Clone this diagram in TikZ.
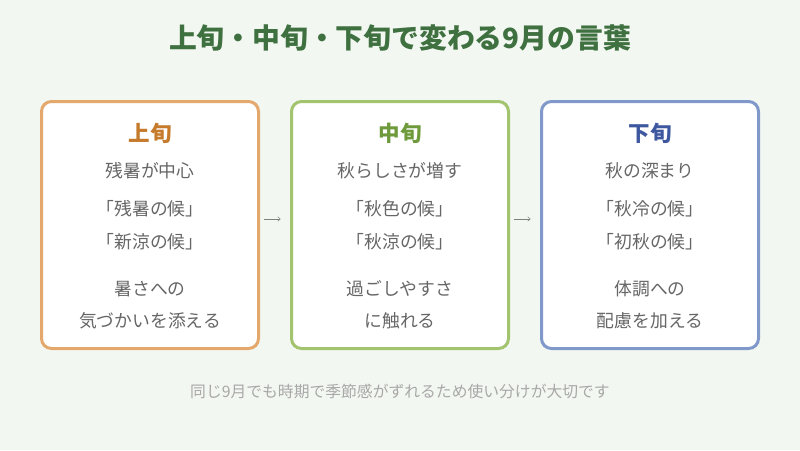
\documentclass[tikz,border=0pt]{standalone}
\usepackage{fontspec}
\usetikzlibrary{arrows.meta,positioning}
\setmainfont{Noto Sans CJK JP}
\definecolor{fondo}{HTML}{F3F7F1}
\definecolor{verdetit}{HTML}{3E7040}
\definecolor{naranja}{HTML}{E4A86C}
\definecolor{naranjaT}{HTML}{C67A2C}
\definecolor{verde}{HTML}{A2C46E}
\definecolor{verdeT}{HTML}{6E9A3C}
\definecolor{azul}{HTML}{8198CB}
\definecolor{azulT}{HTML}{3E58A0}
\definecolor{texto}{HTML}{666666}
\definecolor{nota}{HTML}{A8A8A8}
\tikzset{
  caja/.style={draw=#1,line width=3pt,fill=white,rounded corners=10pt,
    minimum width=217pt,minimum height=247pt,inner sep=0pt},
  cabeza/.style={text=#1,font=\fontsize{21.5}{21.5}\selectfont\bfseries},
  linea/.style={text=texto,font=\fontsize{17.8}{17.8}\selectfont},
  flecha/.style={->,gray,line width=.5pt,shorten <=3.5pt,shorten >=9.5pt}
}
\begin{document}
\begin{tikzpicture}[x=1pt,y=-1pt,>={To[length=3pt,width=5pt]}]
\fill[fondo] (0,0) rectangle (800,450);
\useasboundingbox (0,0) rectangle (800,450);
\node[text=verdetit,font=\fontsize{27.8}{27.8}\selectfont\bfseries] (titulo) at (400,38) {上旬・中旬・下旬で変わる9月の言葉};
\foreach \i/\c/\col/\cab/\a/\b/\d/\e/\f in {
  1/0/naranja/上旬/残暑が中心/「残暑の候」/「新涼の候」/暑さへの/気づかいを添える,
  2/250/verde/中旬/秋らしさが増す/「秋色の候」/「秋涼の候」/過ごしやすさ/に触れる,
  3/500/azul/下旬/秋の深まり/「秋冷の候」/「初秋の候」/体調への/配慮を加える}{
\begin{scope}[xshift=\c pt]
\node[caja=\col] (box\i) at (150,225) {};
\node[cabeza=\col T] (cab\i) at (150,133) {\cab};
\node[linea] (l\i a) at (150,171) {\a};
\node[linea] (l\i b) at (150,209) {\b};
\node[linea] (l\i c) at (150,242) {\d};
\node[linea] (l\i d) at (150,289) {\e};
\node[linea] (l\i e) at (150,321) {\f};
\end{scope}}
\draw[flecha] (box1.east |- 0,219) -- (box2.west |- 0,219);
\draw[flecha] (box2.east |- 0,219) -- (box3.west |- 0,219);
\node[text=nota,font=\fontsize{15.8}{15.8}\selectfont] (nota) at (400,391) {同じ9月でも時期で季節感がずれるため使い分けが大切です};
\end{tikzpicture}
\end{document}
